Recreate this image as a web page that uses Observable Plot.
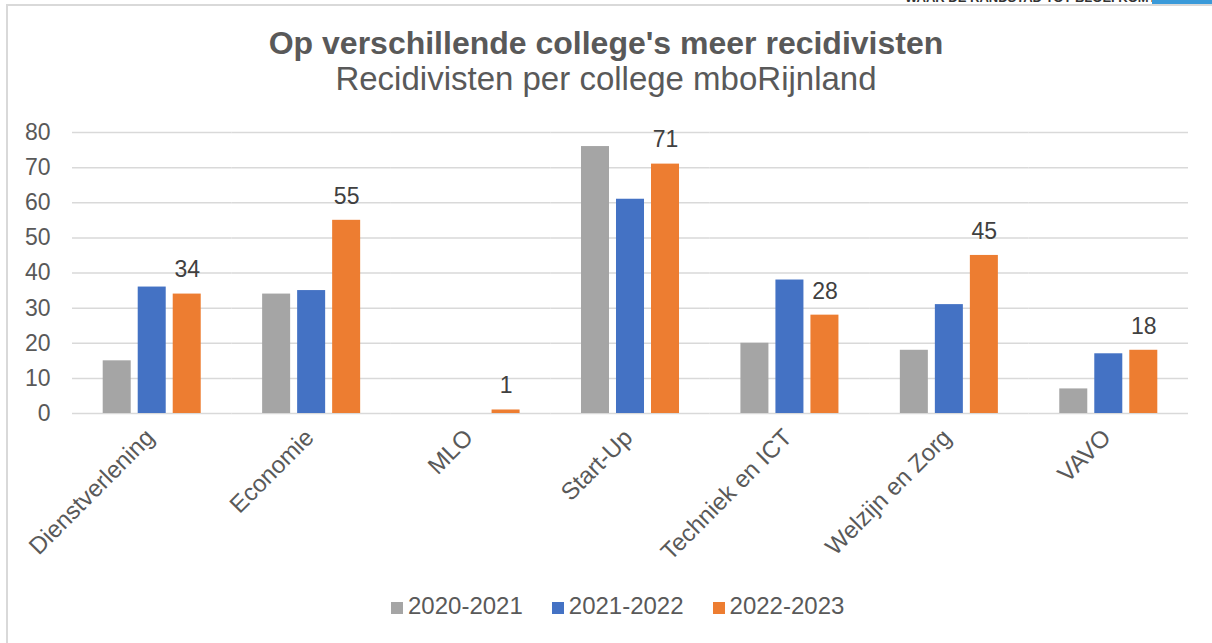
<!DOCTYPE html>
<html>
<head>
<meta charset="utf-8">
<script src="https://cdn.jsdelivr.net/npm/d3@7"></script>
<script src="https://cdn.jsdelivr.net/npm/@observablehq/plot@0.6"></script>
<style>
  html, body { margin: 0; padding: 0; background: #fff; overflow: hidden; }
  body { width: 1212px; height: 643px; position: relative; font-family: "Liberation Sans", Arial, sans-serif; }
  #frame { position: absolute; left: 6px; top: 4px; width: 1300px; height: 800px; border-left: 2px solid #d9d9d9; border-top: 2px solid #d9d9d9; }
  #brand { position: absolute; left: 905px; top: -10px; font-size: 13px; font-weight: bold; color: #333; letter-spacing: 0px; white-space: nowrap; }
  #brandbar { position: absolute; left: 1152px; top: 0; width: 60px; height: 4px; background: #3a9ad9; }
  #title { position: absolute; top: 25px; left: 0; width: 1212px; text-align: center; font-size: 32px; font-weight: bold; color: #595959; line-height: 1.15; }
  #subtitle { position: absolute; top: 60px; left: 0; width: 1212px; text-align: center; font-size: 33px; color: #595959; line-height: 1.15; }
  #chart { position: absolute; left: 0; top: 0; }
  #legend { position: absolute; top: 592px; left: 391px; font-size: 24px; color: #595959; line-height: 1.15; white-space: nowrap; }
  #legend span.item { margin-right: 29px; }
  #legend span.sw { display: inline-block; width: 12px; height: 12px; margin-right: 5px; vertical-align: 0px; }
</style>
</head>
<body>
<div id="frame"></div>
<div id="brand">WAAR DE RANDSTAD TOT BLOEI KOMT</div>
<div id="brandbar"></div>
<div id="title">Op verschillende college's meer recidivisten</div>
<div id="subtitle">Recidivisten per college mboRijnland</div>
<div id="chart"></div>
<div id="legend"></div>
<script>
const categories = ["Dienstverlening", "Economie", "MLO", "Start-Up", "Techniek en ICT", "Welzijn en Zorg", "VAVO"];
const seriesNames = ["2020-2021", "2021-2022", "2022-2023"];
const values2020 = [15, 34, 0, 76, 20, 18, 7];
const values2021 = [36, 35, 0, 61, 38, 31, 17];
const values2022 = [34, 55, 1, 71, 28, 45, 18];
const colors = ["#a5a5a5", "#4472c4", "#ed7d31"];
const yTicks = [0, 10, 20, 30, 40, 50, 60, 70, 80];

const allValues = [values2020, values2021, values2022];
const data = [];
categories.forEach((c, i) => {
  seriesNames.forEach((s, j) => data.push({category: c, series: s, value: allValues[j][i]}));
});
const labelData = data.filter(d => d.series === "2022-2023");

const W = 1212, H = 643;
const plot = Plot.plot({
  width: W,
  height: H,
  marginTop: 132,
  marginBottom: 230,
  marginLeft: 72,
  marginRight: 24,
  style: {fontFamily: '"Liberation Sans", Arial, sans-serif', fontSize: "23px", color: "#595959", background: "transparent"},
  fx: {domain: categories, padding: 0, round: false, label: null},
  x: {domain: seriesNames, axis: null, round: false, paddingInner: 0.2, paddingOuter: 0.877},
  y: {domain: [0, 80], label: null},
  color: {domain: seriesNames, range: colors},
  marks: [
    Plot.ruleY(yTicks, {stroke: "#d9d9d9", strokeWidth: 1.5, strokeOpacity: 1}),
    Plot.axisY({ticks: yTicks, tickSize: 0, tickPadding: 22, label: null}),
    Plot.axisFx({anchor: "bottom", tickRotate: -45, tickSize: 0, tickPadding: 12, dx: -2, dy: 8, fontSize: 24, label: null}),
    Plot.barY(data, {fx: "category", x: "series", y: "value", fill: "series"}),
    Plot.text(labelData, {fx: "category", x: "series", y: "value", text: d => String(d.value), dy: -24, fill: "#404040", fontSize: 23})
  ]
});
document.getElementById("chart").appendChild(plot);

const legend = document.getElementById("legend");
seriesNames.forEach((s, i) => {
  const item = document.createElement("span");
  item.className = "item";
  const sw = document.createElement("span");
  sw.className = "sw";
  sw.style.background = colors[i];
  item.appendChild(sw);
  item.appendChild(document.createTextNode(s));
  legend.appendChild(item);
});
</script>
</body>
</html>
